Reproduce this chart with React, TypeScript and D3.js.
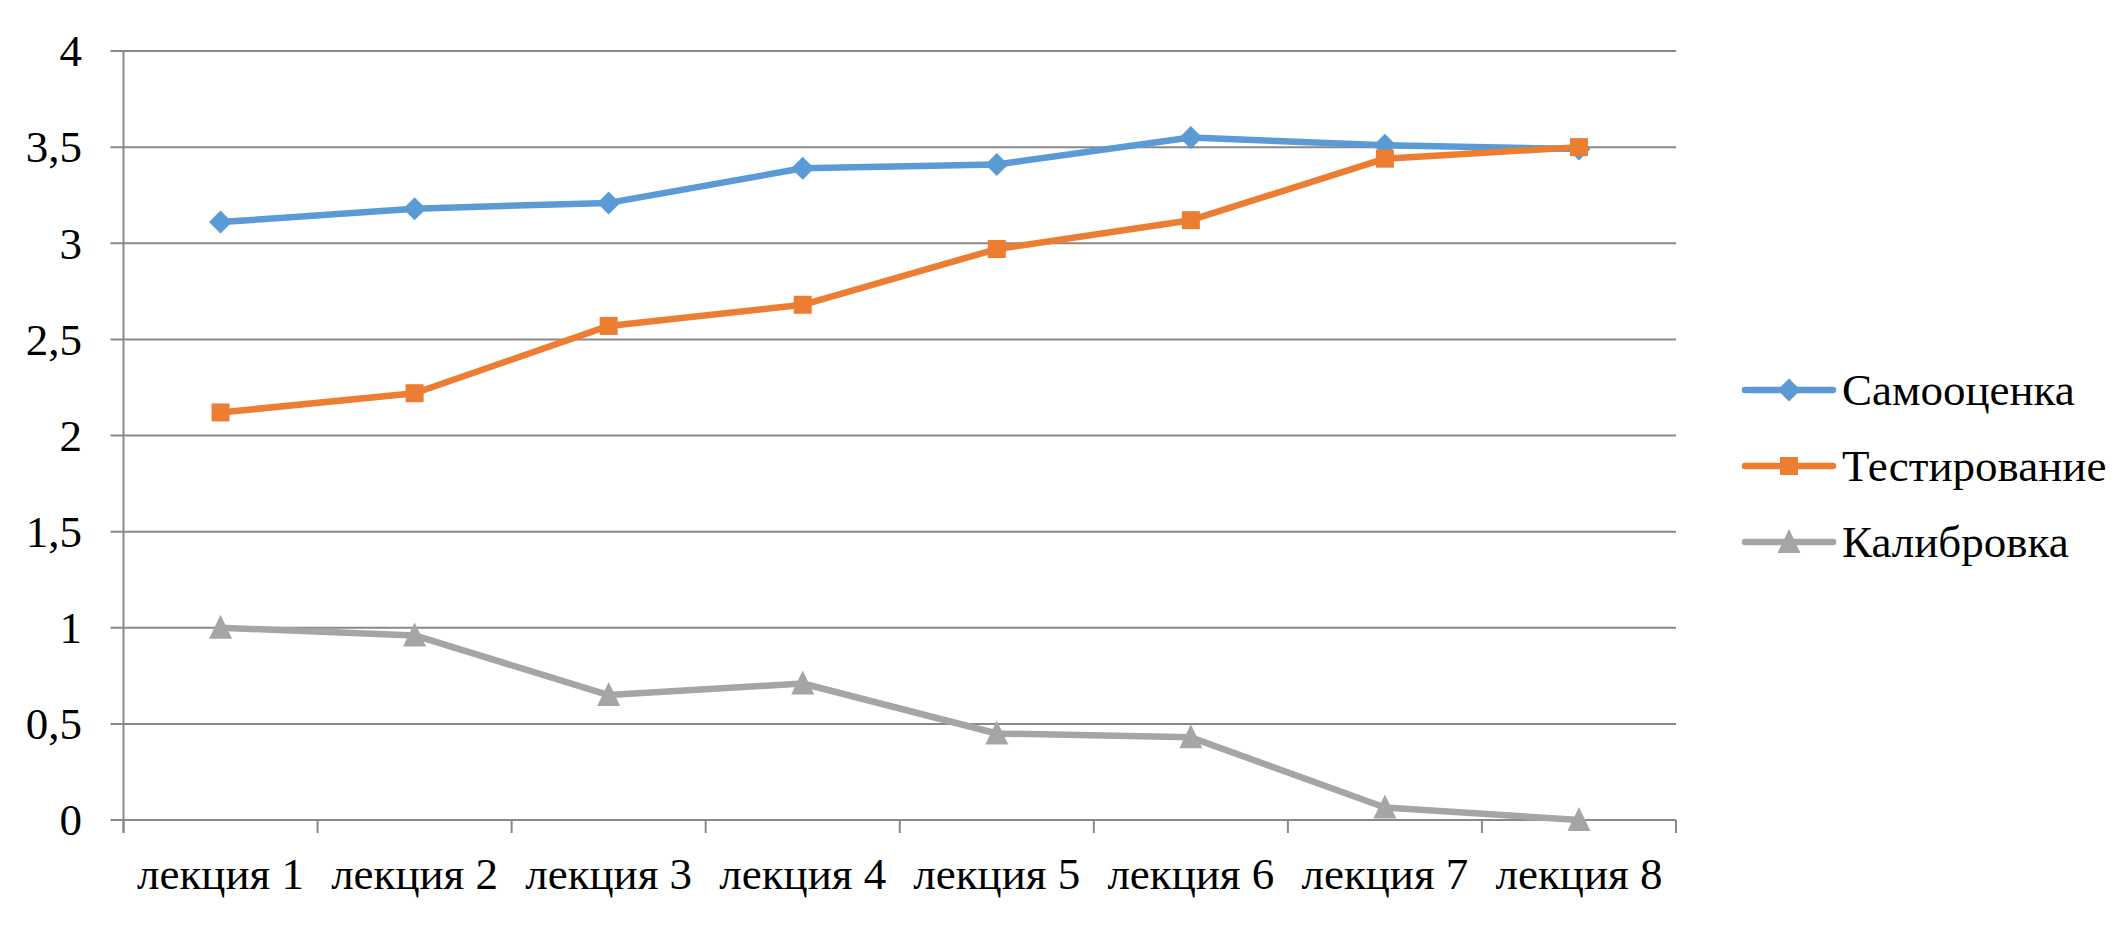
import React from "react";
import * as d3 from "d3";

const categories = ["лекция 1", "лекция 2", "лекция 3", "лекция 4", "лекция 5", "лекция 6", "лекция 7", "лекция 8"];
const selfAssessment = [3.11, 3.18, 3.21, 3.39, 3.41, 3.55, 3.51, 3.49];
const testing = [2.12, 2.22, 2.57, 2.68, 2.97, 3.12, 3.44, 3.5];
const calibration = [1.0, 0.96, 0.65, 0.71, 0.45, 0.43, 0.065, 0.0];
const yTicks = [0, 0.5, 1, 1.5, 2, 2.5, 3, 3.5, 4];
const seriesNames = ["Самооценка", "Тестирование", "Калибровка"];

const W = 2126;
const H = 930;
const left = 123.5;
const right = 1676;
const plotTop = 51;
const bottom = 820;
const gridColor = "#898989";
const font = "Liberation Serif";
const fs = 45;

const colors = ["#5B9BD5", "#ED7D31", "#A5A5A5"];
const markers = ["diamond", "square", "triangle"];

function Marker({ type, x, y, color }: { type: string; x: number; y: number; color: string }) {
  if (type === "diamond") {
    const r = 11.5;
    return <path d={`M${x},${y - r}L${x + r},${y}L${x},${y + r}L${x - r},${y}Z`} fill={color} />;
  }
  if (type === "square") {
    const r = 9;
    return <rect x={x - r} y={y - r} width={2 * r} height={2 * r} fill={color} />;
  }
  const w = 11.5;
  return <path d={`M${x},${y - 13}L${x + w},${y + 11}L${x - w},${y + 11}Z`} fill={color} />;
}

export default function App() {
  const x = d3.scaleBand<string>().domain(categories).range([left, right]).padding(0);
  const y = d3.scaleLinear().domain([0, 4]).range([bottom, plotTop]);
  const cx = (c: string) => (x(c) as number) + x.bandwidth() / 2;
  const allSeries = [selfAssessment, testing, calibration];
  const line = d3
    .line<number>()
    .x((_, i) => cx(categories[i]))
    .y((d) => y(d));

  const boundaries = categories.map((c) => x(c) as number).concat([right]);
  const legendY = [390, 466, 542];

  return (
    <svg width={W} height={H} style={{ position: "absolute", left: 0, top: 0, background: "#fff" }}>
      <rect x={0} y={0} width={W} height={H} fill="#fff" />
      {yTicks.map((t) => (
        <line key={"g" + t} x1={left - 13} x2={right} y1={y(t)} y2={y(t)} stroke={gridColor} strokeWidth={2} />
      ))}
      <line x1={left} x2={left} y1={plotTop} y2={bottom + 13} stroke={gridColor} strokeWidth={2} />
      {boundaries.map((b, i) => (
        <line key={"t" + i} x1={b} x2={b} y1={bottom} y2={bottom + 13} stroke={gridColor} strokeWidth={2} />
      ))}
      {yTicks.map((t) => (
        <text key={"l" + t} x={82} y={y(t)} dy="0.34em" textAnchor="end" fontFamily={font} fontSize={fs} fill="#000">
          {String(t).replace(".", ",")}
        </text>
      ))}
      {categories.map((c) => (
        <text key={c} x={cx(c)} y={889} textAnchor="middle" fontFamily={font} fontSize={fs} fill="#000">
          {c}
        </text>
      ))}
      {allSeries.map((s, si) => (
        <g key={"s" + si}>
          <path d={line(s) || ""} fill="none" stroke={colors[si]} strokeWidth={6.5} strokeLinejoin="round" strokeLinecap="round" />
          {s.map((v, i) => (
            <Marker key={i} type={markers[si]} x={cx(categories[i])} y={y(v)} color={colors[si]} />
          ))}
        </g>
      ))}
      {seriesNames.map((n, i) => (
        <g key={n}>
          <line x1={1745} x2={1833} y1={legendY[i]} y2={legendY[i]} stroke={colors[i]} strokeWidth={6.5} strokeLinecap="round" />
          <Marker type={markers[i]} x={1789} y={legendY[i]} color={colors[i]} />
          <text x={1842} y={legendY[i]} dy="0.34em" fontFamily={font} fontSize={fs} fill="#000">
            {n}
          </text>
        </g>
      ))}
    </svg>
  );
}
